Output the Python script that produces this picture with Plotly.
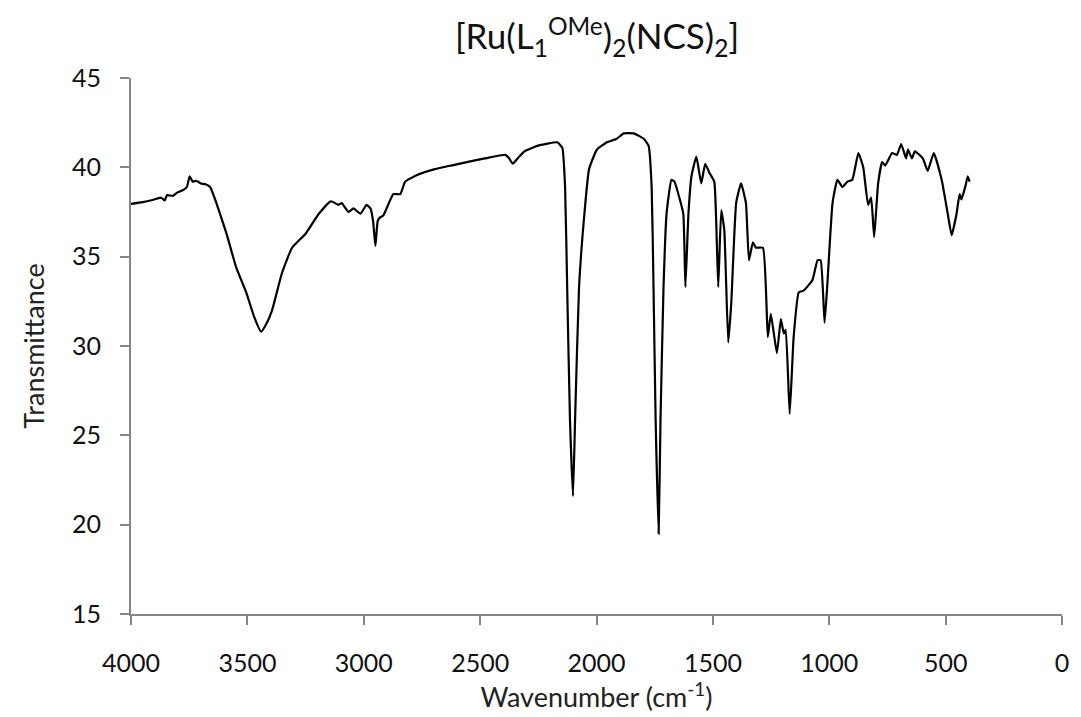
import plotly.graph_objects as go

wavenumber = [4000, 3950, 3900, 3870, 3855, 3845, 3820, 3800, 3780, 3760, 3748, 3735, 3720, 3700, 3680, 3660,
              3633, 3590, 3548, 3505, 3470, 3441, 3420, 3394, 3351, 3308, 3249, 3193, 3142, 3108, 3095, 3065,
              3044, 3014, 2988, 2971, 2960, 2950, 2940, 2930, 2916, 2873, 2843, 2822, 2766, 2694, 2625, 2480,
              2391, 2375, 2360, 2339, 2309, 2254, 2169, 2147, 2135, 2126, 2114, 2101, 2092, 2075, 2054, 2032,
              1998, 1955, 1913, 1883, 1840, 1797, 1776, 1763, 1755, 1746, 1733, 1725, 1712, 1699, 1678, 1665,
              1644, 1627, 1618, 1605, 1592, 1571, 1550, 1533, 1515, 1494, 1486, 1477, 1464, 1451, 1434, 1421,
              1400, 1379, 1358, 1345, 1328, 1315, 1285, 1264, 1251, 1225, 1208, 1195, 1187, 1170, 1153, 1131,
              1110, 1072, 1050, 1037, 1020, 1007, 986, 965, 943, 922, 901, 875, 854, 833, 820, 807, 790, 773,
              760, 730, 709, 691, 670, 662, 645, 632, 598, 577, 551, 517, 491, 474, 453, 440, 432, 414, 405, 397]
transmittance = [37.95, 38.05, 38.2, 38.3, 38.15, 38.45, 38.4, 38.6, 38.7, 38.9, 39.5, 39.2, 39.25, 39.1, 39.05, 38.9,
                 38.0, 36.3, 34.4, 33.0, 31.6, 30.8, 31.2, 32.0, 34.1, 35.5, 36.3, 37.4, 38.1, 37.9, 38.0, 37.5,
                 37.7, 37.4, 37.9, 37.7, 37.0, 35.6, 37.0, 37.2, 37.3, 38.5, 38.5, 39.2, 39.6, 39.9, 40.1, 40.5,
                 40.7, 40.5, 40.2, 40.5, 40.9, 41.2, 41.4, 41.1, 38.9, 33.3, 25.9, 21.6, 25.9, 33.3, 37.1, 39.9,
                 41.0, 41.4, 41.6, 41.9, 41.9, 41.6, 41.2, 38.9, 33.3, 25.9, 19.5, 25.9, 33.3, 37.4, 39.3, 39.2,
                 38.3, 37.4, 33.3, 37.4, 39.5, 40.6, 39.1, 40.2, 39.7, 39.2, 37.1, 33.3, 37.6, 36.5, 30.2, 32.4,
                 38.0, 39.1, 38.0, 34.8, 35.8, 35.5, 35.5, 30.5, 31.8, 29.6, 31.5, 30.7, 30.9, 26.2, 30.5, 33.0,
                 33.1, 33.7, 34.8, 34.8, 31.3, 33.7, 38.0, 39.3, 38.9, 39.2, 39.3, 40.8, 40.0, 37.9, 38.3, 36.1, 39.1, 40.3,
                 40.1, 40.8, 40.7, 41.3, 40.5, 41.0, 40.5, 40.9, 40.5, 39.8, 40.8, 39.3, 37.4, 36.2, 37.4, 38.5, 38.2, 39.0, 39.5, 39.2]

x_ticks = [4000, 3500, 3000, 2500, 2000, 1500, 1000, 500, 0]
y_ticks = [15, 20, 25, 30, 35, 40, 45]

FONT = "Lato"
AXIS_GREY = "#868686"

fig = go.Figure()
fig.add_trace(go.Scatter(x=wavenumber, y=transmittance, mode="lines",
                         line=dict(color="black", width=2.2, shape="spline", smoothing=0.4),
                         showlegend=False))

fig.update_layout(
    width=1081, height=717,
    margin=dict(l=131, r=14, t=78, b=103),
    paper_bgcolor="white", plot_bgcolor="white",
    font=dict(family=FONT, color="#222222"),
    title=dict(text="[Ru(L<sub>1</sub><sup>OMe</sup>)<sub>2</sub>(NCS)<sub>2</sub>]",
               x=597 / 1081, xanchor="center",
               y=1 - 37 / 717, yanchor="middle",
               font=dict(family=FONT, size=35, color="#111111")),
)
fig.update_xaxes(range=[4000, 0], tickvals=x_ticks, ticktext=[str(v) for v in x_ticks],
                 showgrid=False, zeroline=False, showline=True, linecolor=AXIS_GREY, linewidth=2,
                 ticks="outside", ticklen=9, tickcolor=AXIS_GREY, tickwidth=2,
                 ticklabelstandoff=17,
                 tickfont=dict(family=FONT, size=25, color="#111111"),
                 title=dict(text="Wavenumber (cm<sup>-1</sup>)", font=dict(family=FONT, size=27, color="#222222"),
                            standoff=2))
fig.update_yaxes(range=[15, 45], tickvals=y_ticks, ticktext=[str(v) for v in y_ticks],
                 showgrid=False, zeroline=False, showline=True, linecolor=AXIS_GREY, linewidth=2,
                 ticks="outside", ticklen=9, tickcolor=AXIS_GREY, tickwidth=2,
                 ticklabelstandoff=14,
                 tickfont=dict(family=FONT, size=25, color="#111111"),
                 title=dict(text="Transmittance", font=dict(family=FONT, size=27, color="#222222"),
                            standoff=20))

fig.write_html("out.html")
